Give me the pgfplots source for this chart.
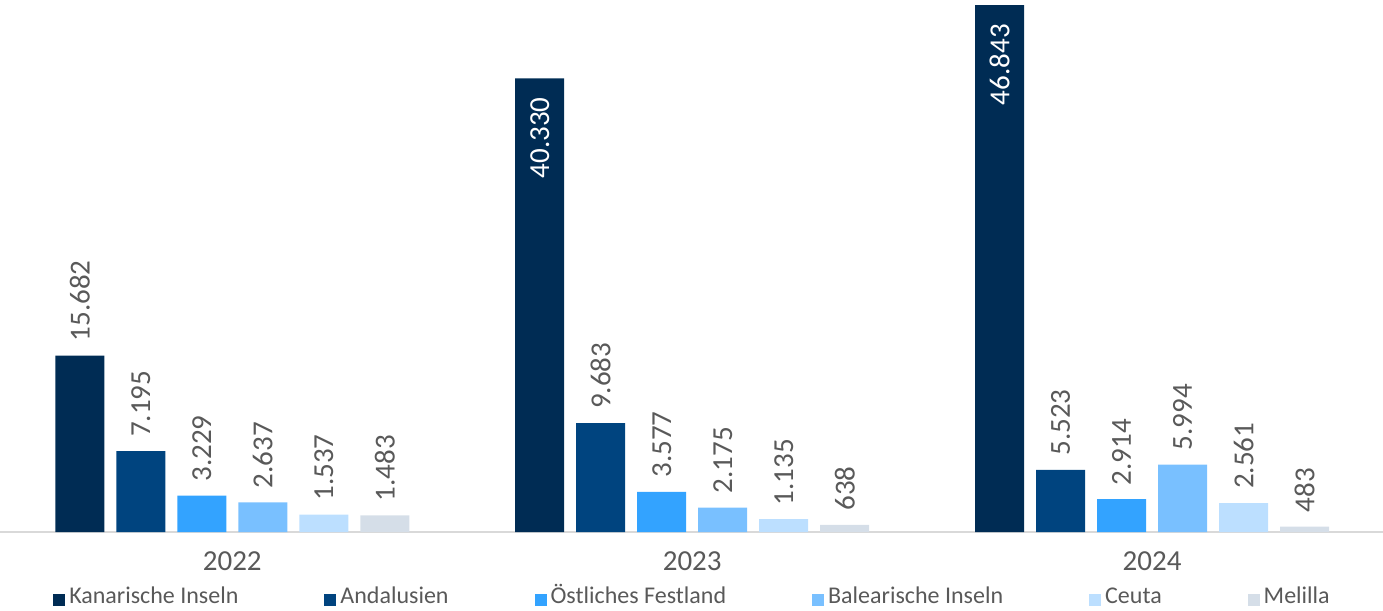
\documentclass[border=0pt]{standalone}
\usepackage{pgfplots}
\pgfplotsset{compat=1.18}
\usepackage{fontspec}
\setmainfont{Carlito}
\definecolor{c1}{HTML}{002C54}
\definecolor{c2}{HTML}{00447F}
\definecolor{c3}{HTML}{33A3FF}
\definecolor{c4}{HTML}{79C0FF}
\definecolor{c5}{HTML}{BCDFFF}
\definecolor{c6}{HTML}{D5DEE8}
\definecolor{txt}{HTML}{595959}
\definecolor{axg}{HTML}{D9D9D9}
\newcommand\checkbig{%
  \pgfmathfloatparsenumber{\rawy}\let\vala\pgfmathresult
  \pgfmathfloatparsenumber{20000}\let\valb\pgfmathresult
  \pgfmathfloatlessthan{\valb}{\vala}%
  \ifpgfmathfloatcomparison\pgfkeysalso{anchor=east,text=white,inner xsep=19pt}\fi}
\begin{document}
\begin{tikzpicture}
\begin{axis}[
  scale only axis, width=1383pt, height=532pt,
  xmin=-0.505, xmax=2.502, ymin=0, ymax=47290,
  ybar=12pt, bar width=49pt,
  axis x line*=bottom,
  hide y axis,
  x axis line style={draw=axg, line width=2pt},
  major tick length=0pt,
  xtick={0,1,2}, xticklabels={2022,2023,2024},
  xticklabel style={font=\fontsize{29}{32}\selectfont, text=txt, anchor=north, inner sep=0pt, yshift=-19pt},
  /pgf/number format/assume math mode=true,
  /pgf/number format/.cd, fixed, precision=0, 1000 sep={.},
  /pgfplots/.cd,
  nodes near coords,
  nodes near coords style={font=\fontsize{29}{32}\selectfont, rotate=90, inner sep=0pt, inner xsep=14pt, text=txt, anchor=west},
  legend columns=6,
  legend style={at={(0.5,0)}, anchor=center, yshift=-66pt, draw=none, fill=none,
    font=\fontsize{24}{27}\selectfont, text=txt,
    nodes={inner sep=0pt, text height=16pt, text depth=5pt},
    /tikz/every odd column/.append style={column sep=4pt},
    /tikz/every even column/.append style={column sep=86pt}},
  legend image code/.code={\fill[#1] (0pt,-8pt) rectangle (12pt,4pt);},
]
\addplot[fill=c1, draw=none,
  visualization depends on={rawy \as \rawy},
  nodes near coords style={/utils/exec={\checkbig}}]
  coordinates {(0,15682) (1,40330) (2,46843)};
\addplot[fill=c2, draw=none] coordinates {(0,7195) (1,9683) (2,5523)};
\addplot[fill=c3, draw=none] coordinates {(0,3229) (1,3577) (2,2914)};
\addplot[fill=c4, draw=none] coordinates {(0,2637) (1,2175) (2,5994)};
\addplot[fill=c5, draw=none] coordinates {(0,1537) (1,1135) (2,2561)};
\addplot[fill=c6, draw=none] coordinates {(0,1483) (1,638) (2,483)};
\legend{Kanarische Inseln, Andalusien, Östliches Festland, Balearische Inseln, Ceuta, Melilla}
\coordinate (bl) at (rel axis cs:0,0);
\end{axis}
\pgfresetboundingbox
\path[use as bounding box] ([yshift=-78pt]bl) rectangle ([xshift=1383pt,yshift=532pt]bl);
\end{tikzpicture}
\end{document}
